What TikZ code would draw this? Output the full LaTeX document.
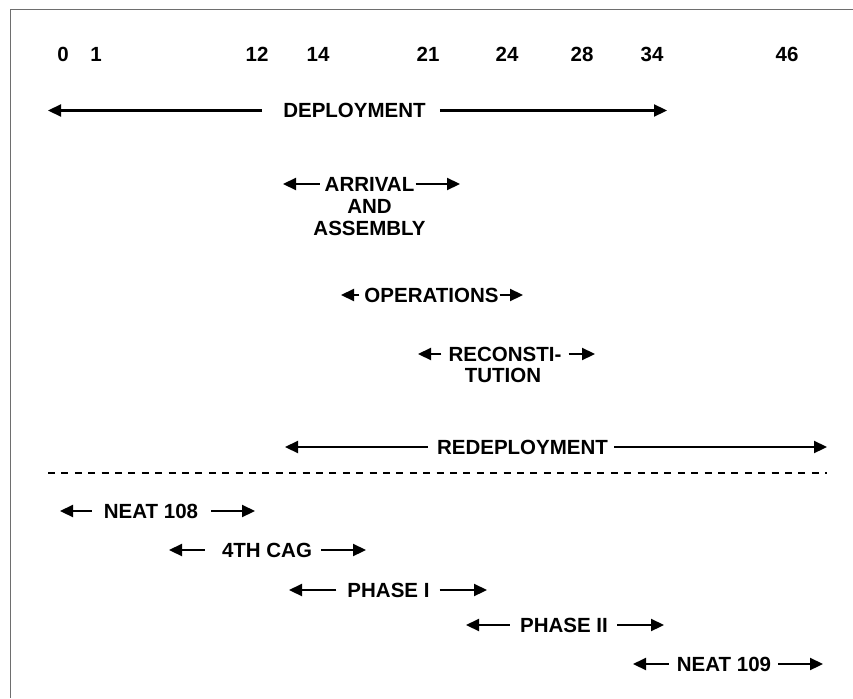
\documentclass[tikz,border=0pt]{standalone}
\usepackage{fontspec}
\setmainfont{Liberation Sans}
\usetikzlibrary{arrows.meta}
\tikzset{
  lbl/.style={font=\bfseries\fontsize{20.5}{21}\selectfont, inner sep=0pt, text=black},
  arr/.style={line width=2.2pt, -{Triangle[length=13pt,width=12pt]}},
  frame/.style={draw={rgb,255:red,110;green,110;blue,110}, line width=1.5pt},
  sep/.style={line width=2pt, dash pattern=on 7pt off 6.4pt}
}
\begin{document}
\begin{tikzpicture}[x=1pt,y=-1pt]
\useasboundingbox (0,0) rectangle (853,698);
% frame
\draw[frame] (10.5,698) -- (10.5,9.5) -- (853,9.5);

% scale numbers
\foreach \v/\xx in {0/63,1/96,12/257,14/318,21/428,24/507,28/582,34/652,46/787}
  \node[lbl] (n\v) at (\xx,54.5) {\v};

% DEPLOYMENT
\node[lbl] (dep) at (354.5,110.5) {DEPLOYMENT};
\coordinate (depL) at (48,110.5);
\coordinate (depR) at (667,110.5);
\draw[arr] ([xshift=-21pt]dep.west) -- (depL);
\draw[arr] ([xshift=14pt]dep.east) -- (depR);

% ARRIVAL AND ASSEMBLY
\node[lbl] (arr1) at (369.5,184) {ARRIVAL};
\node[lbl] (arr2) at (369.5,206.5) {AND};
\node[lbl] (arr3) at (369.5,228) {ASSEMBLY};
\coordinate (arrL) at (283,184);
\coordinate (arrR) at (460,184);
\draw[arr] ([xshift=-5pt]arr1.west) -- (arrL);
\draw[arr] ([xshift=1pt]arr1.east) -- (arrR);

% OPERATIONS
\node[lbl] (ops) at (431.5,295) {OPERATIONS};
\coordinate (opsL) at (341,295);
\coordinate (opsR) at (523,295);
\draw[arr] ([xshift=-5pt]ops.west) -- (opsL);
\draw[arr] ([xshift=1pt]ops.east) -- (opsR);

% RECONSTITUTION
\node[lbl] (rec1) at (505,354) {RECONSTI-};
\node[lbl] (rec2) at (503,375) {TUTION};
\coordinate (recL) at (418,354);
\coordinate (recR) at (595,354);
\draw[arr] ([xshift=-7pt]rec1.west) -- (recL);
\draw[arr] ([xshift=7pt]rec1.east) -- (recR);

% REDEPLOYMENT
\node[lbl] (red) at (522.5,447) {REDEPLOYMENT};
\coordinate (redL) at (285,447);
\coordinate (redR) at (827,447);
\draw[arr] ([xshift=-9pt]red.west) -- (redL);
\draw[arr] ([xshift=6pt]red.east) -- (redR);

% separator
\coordinate (sepL) at (48,473);
\coordinate (sepR) at (827,473);
\draw[sep] (sepL) -- (sepR);

% NEAT 108
\node[lbl] (n108) at (151,511) {NEAT 108};
\coordinate (n108L) at (60,511);
\coordinate (n108R) at (255,511);
\draw[arr] ([xshift=-12pt]n108.west) -- (n108L);
\draw[arr] ([xshift=13pt]n108.east) -- (n108R);

% 4TH CAG
\node[lbl] (cag) at (267,550) {4TH CAG};
\coordinate (cagL) at (169,550);
\coordinate (cagR) at (366,550);
\draw[arr] ([xshift=-17pt]cag.west) -- (cagL);
\draw[arr] ([xshift=9pt]cag.east) -- (cagR);

% PHASE I
\node[lbl] (ph1) at (388.5,590) {PHASE I};
\coordinate (ph1L) at (289,590);
\coordinate (ph1R) at (487,590);
\draw[arr] ([xshift=-11pt]ph1.west) -- (ph1L);
\draw[arr] ([xshift=10pt]ph1.east) -- (ph1R);

% PHASE II
\node[lbl] (ph2) at (564,625) {PHASE II};
\coordinate (ph2L) at (466,625);
\coordinate (ph2R) at (664,625);
\draw[arr] ([xshift=-10pt]ph2.west) -- (ph2L);
\draw[arr] ([xshift=9pt]ph2.east) -- (ph2R);

% NEAT 109
\node[lbl] (n109) at (724,664) {NEAT 109};
\coordinate (n109L) at (633,664);
\coordinate (n109R) at (823,664);
\draw[arr] ([xshift=-8pt]n109.west) -- (n109L);
\draw[arr] ([xshift=7pt]n109.east) -- (n109R);
\end{tikzpicture}
\end{document}
